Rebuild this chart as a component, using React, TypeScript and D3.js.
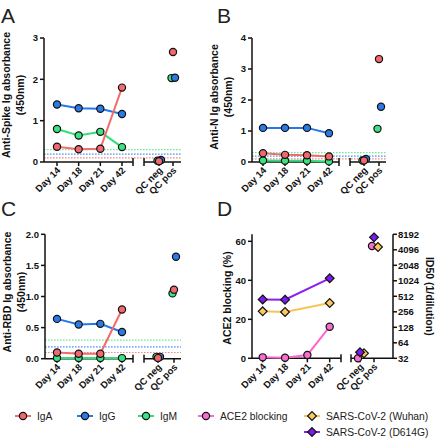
import React from 'react';
import * as d3 from 'd3';

// ---------- data ----------
const days = ['Day 14', 'Day 18', 'Day 21', 'Day 42'];
const qcLabels = ['QC neg', 'QC pos'];

const spikeIgA = [0.37, 0.31, 0.32, 1.8];
const spikeIgAQC = [0.02, 2.66];
const spikeIgG = [1.39, 1.3, 1.29, 1.16];
const spikeIgGQC = [0.05, 2.04];
const spikeIgM = [0.8, 0.64, 0.73, 0.36];
const spikeIgMQC = [0.03, 2.03];

const nIgA = [0.28, 0.23, 0.22, 0.18];
const nIgAQC = [0.05, 3.32];
const nIgG = [1.1, 1.1, 1.1, 0.93];
const nIgGQC = [0.1, 1.78];
const nIgM = [0.05, 0.04, 0.04, 0.02];
const nIgMQC = [0.05, 1.07];

const rbdIgA = [0.1, 0.08, 0.08, 0.79];
const rbdIgAQC = [0.01, 1.11];
const rbdIgG = [0.64, 0.55, 0.56, 0.43];
const rbdIgGQC = [0.03, 1.64];
const rbdIgM = [0.01, 0.01, 0.01, 0.01];
const rbdIgMQC = [0.03, 1.05];

const cutoffIgA = 0.1;
const cutoffIgG = 0.19;
const cutoffIgM = 0.3;

const ace2 = [0.5, 0.3, 1.7, 16.2];
const ace2QC = [0, 57.6];
const wuhan: (number | null)[] = [261, 254, null, 380];
const wuhanQC = [40, 4640];
const d614g: (number | null)[] = [446, 440, null, 1146];
const d614gQC = [42, 7140];

const spikeTicks = [0, 1, 2, 3];
const nTicks = [0, 1, 2, 3, 4];
const rbdTicks = [0, 0.5, 1, 1.5, 2];
const ace2Ticks = [0, 20, 40, 60];
const id50Ticks = [32, 64, 128, 256, 512, 1024, 2048, 4096, 8192];

// ---------- style ----------
const FONT = '"Liberation Sans", Arial, Helvetica, sans-serif';
const COL = {
  igA: { line: '#f46b6b', fill: '#f2686e', cut: '#f08c8c' },
  igG: { line: '#2379ea', fill: '#2a7be6', cut: '#4f92ee' },
  igM: { line: '#2fe07a', fill: '#3de283', cut: '#72e89a' },
  ace2: { line: '#ff66d2', fill: '#f56fcf' },
  wuhan: { line: '#f8c459', fill: '#fbc862' },
  d614g: { line: '#8a1ff0', fill: '#7a1ced' },
};

type Series = {
  values: (number | null)[];
  qc: number[];
  col: { line: string; fill: string };
  dodge: number;
  shape: 'circle' | 'diamond';
  axis: 'left' | 'right';
};

type PanelCfg = {
  letter: string;
  letterX: number;
  letterY: number;
  axisX: number;
  y0: number;
  yTop: number;
  yDomain: [number, number];
  ticks: number[];
  fmt: (v: number) => string;
  daysRange: [number, number];
  leftEnd: number;
  rightStart: number;
  qcRange: [number, number];
  rightEnd: number;
  series: Series[];
  cutoffs: { v: number; color: string }[];
  title: string[];
  titleCY: number;
  right?: { domain: [number, number]; ticks: number[]; title: string };
};

const Marker = ({ x, y, s }: { x: number; y: number; s: Series }) => {
  if (s.shape === 'circle')
    return <circle cx={x} cy={y} r={3.6} fill={s.col.fill} stroke="#111" strokeWidth={1.2} />;
  const d = 4.4;
  return (
    <path
      d={`M${x},${y - d}L${x + d},${y}L${x},${y + d}L${x - d},${y}Z`}
      fill={s.col.fill}
      stroke="#111"
      strokeWidth={1.2}
    />
  );
};

const Panel = ({ c }: { c: PanelCfg }) => {
  const y = d3.scaleLinear().domain(c.yDomain).range([c.y0, c.yTop]);
  const yR = c.right ? d3.scaleLog().base(2).domain(c.right.domain).range([c.y0, c.yTop]) : null;
  const xd = d3.scalePoint<string>().domain(days).range(c.daysRange);
  const xq = d3.scalePoint<string>().domain(qcLabels).range(c.qcRange);
  const ys = (s: Series) => (s.axis === 'right' && yR ? yR : y);
  const ax = { stroke: '#111', strokeWidth: 1.5, fill: 'none' };

  return (
    <g>
      <text x={c.letterX} y={c.letterY} fontSize={21} fontFamily={FONT} fill="#222">
        {c.letter}
      </text>
      {/* cutoff lines */}
      {c.cutoffs.map((k, i) => (
        <line
          key={i}
          x1={c.axisX}
          x2={c.rightEnd}
          y1={y(k.v)}
          y2={y(k.v)}
          stroke={k.color}
          strokeWidth={1.2}
          strokeDasharray="1.6,1.4"
        />
      ))}
      {/* y axis */}
      <line x1={c.axisX} x2={c.axisX} y1={c.y0} y2={y(c.yDomain[1])} {...ax} />
      {c.ticks.map((t) => (
        <g key={t}>
          <line x1={c.axisX - 4} x2={c.axisX} y1={y(t)} y2={y(t)} {...ax} />
          <text
            x={c.axisX - 6}
            y={y(t)}
            dy="0.35em"
            textAnchor="end"
            fontSize={9.5}
            fontWeight="bold"
            fontFamily={FONT}
            fill="#111"
          >
            {c.fmt(t)}
          </text>
        </g>
      ))}
      {/* title */}
      <text
        transform={`translate(${c.axisX - (c.title.length > 1 ? 34 : 21)},${c.titleCY}) rotate(-90)`}
        textAnchor="middle"
        fontSize={10.5}
        fontWeight="bold"
        fontFamily={FONT}
        fill="#111"
      >
        {c.title.map((t, i) => (
          <tspan key={i} x={0} dy={i === 0 ? 0 : 14}>
            {t}
          </tspan>
        ))}
      </text>
      {/* right axis */}
      {c.right && yR && (
        <g>
          <line x1={c.rightEnd} x2={c.rightEnd} y1={c.y0} y2={c.yTop} {...ax} />
          {c.right.ticks.map((t) => (
            <g key={t}>
              <line x1={c.rightEnd} x2={c.rightEnd + 4} y1={yR(t)} y2={yR(t)} {...ax} />
              <text
                x={c.rightEnd + 5}
                y={yR(t)}
                dy="0.35em"
                fontSize={9.5}
                fontWeight="bold"
                fontFamily={FONT}
                fill="#111"
              >
                {t}
              </text>
            </g>
          ))}
          <text
            transform={`translate(426,${(c.y0 + c.yTop) / 2}) rotate(90)`}
            textAnchor="middle"
            fontSize={10.5}
            fontWeight="bold"
            fontFamily={FONT}
            fill="#111"
          >
            {c.right.title}
          </text>
        </g>
      )}
      {/* x axis segments */}
      <line x1={c.axisX} x2={c.leftEnd} y1={c.y0} y2={c.y0} {...ax} />
      <line x1={c.leftEnd} x2={c.leftEnd} y1={c.y0 - 4} y2={c.y0 + 4} {...ax} />
      <line x1={c.rightStart} x2={c.rightEnd} y1={c.y0} y2={c.y0} {...ax} />
      <line x1={c.rightStart} x2={c.rightStart} y1={c.y0 - 4} y2={c.y0 + 4} {...ax} />
      {days.map((d) => (
        <g key={d}>
          <line x1={xd(d)} x2={xd(d)} y1={c.y0} y2={c.y0 + 4} {...ax} />
          <text
            transform={`translate(${(xd(d) as number) + 4},${c.y0 + 9}) rotate(-45)`}
            textAnchor="end"
            fontSize={9.5}
            fontWeight="bold"
            fontFamily={FONT}
            fill="#111"
          >
            {d}
          </text>
        </g>
      ))}
      {qcLabels.map((d) => (
        <g key={d}>
          <line x1={xq(d)} x2={xq(d)} y1={c.y0} y2={c.y0 + 4} {...ax} />
          <text
            transform={`translate(${(xq(d) as number) + 4},${c.y0 + 9}) rotate(-45)`}
            textAnchor="end"
            fontSize={9.5}
            fontWeight="bold"
            fontFamily={FONT}
            fill="#111"
          >
            {d}
          </text>
        </g>
      ))}
      {/* lines */}
      {c.series.map((s, i) => {
        const sc = ys(s);
        const pts = days
          .map((d, j) => [xd(d) as number, s.values[j]] as [number, number | null])
          .filter((p) => p[1] !== null) as [number, number][];
        const line = d3
          .line<[number, number]>()
          .x((p) => p[0])
          .y((p) => sc(p[1]));
        return <path key={i} d={line(pts) || ''} stroke={s.col.line} strokeWidth={2} fill="none" />;
      })}
      {/* markers */}
      {c.series.map((s, i) => {
        const sc = ys(s);
        return (
          <g key={i}>
            {days.map((d, j) =>
              s.values[j] === null ? null : (
                <Marker key={d} x={xd(d) as number} y={sc(s.values[j] as number)} s={s} />
              )
            )}
            {qcLabels.map((d, j) => (
              <Marker key={d} x={(xq(d) as number) + s.dodge} y={sc(s.qc[j])} s={s} />
            ))}
          </g>
        );
      })}
    </g>
  );
};

const abSeries = (
  a: number[],
  aq: number[],
  g: number[],
  gq: number[],
  m: number[],
  mq: number[]
): Series[] => [
  { values: m, qc: mq, col: COL.igM, dodge: -1.5, shape: 'circle', axis: 'left' },
  { values: g, qc: gq, col: COL.igG, dodge: 2, shape: 'circle', axis: 'left' },
  { values: a, qc: aq, col: COL.igA, dodge: 0, shape: 'circle', axis: 'left' },
];

const cutoffs = [
  { v: cutoffIgM, color: COL.igM.cut },
  { v: cutoffIgG, color: COL.igG.cut },
  { v: cutoffIgA, color: COL.igA.cut },
];

const panels: PanelCfg[] = [
  {
    letter: 'A',
    letterX: 1,
    letterY: 23,
    axisX: 44,
    y0: 162,
    yTop: 38,
    yDomain: [0, 3],
    ticks: spikeTicks,
    fmt: (v) => String(v),
    daysRange: [57, 122],
    leftEnd: 133,
    rightStart: 144,
    qcRange: [159, 173],
    rightEnd: 181,
    series: abSeries(spikeIgA, spikeIgAQC, spikeIgG, spikeIgGQC, spikeIgM, spikeIgMQC),
    cutoffs,
    title: ['Anti-Spike Ig absorbance', '(450nm)'],
    titleCY: 95,
  },
  {
    letter: 'B',
    letterX: 217,
    letterY: 23,
    axisX: 252,
    y0: 162,
    yTop: 38,
    yDomain: [0, 4],
    ticks: nTicks,
    fmt: (v) => String(v),
    daysRange: [263, 329],
    leftEnd: 339,
    rightStart: 350,
    qcRange: [364, 379],
    rightEnd: 386,
    series: abSeries(nIgA, nIgAQC, nIgG, nIgGQC, nIgM, nIgMQC),
    cutoffs,
    title: ['Anti-N Ig absorbance', '(450nm)'],
    titleCY: 97,
  },
  {
    letter: 'C',
    letterX: 1,
    letterY: 216,
    axisX: 45,
    y0: 358.7,
    yTop: 234.3,
    yDomain: [0, 2],
    ticks: rbdTicks,
    fmt: d3.format('.1f'),
    daysRange: [57, 122],
    leftEnd: 133,
    rightStart: 144,
    qcRange: [158, 174],
    rightEnd: 181,
    series: abSeries(rbdIgA, rbdIgAQC, rbdIgG, rbdIgGQC, rbdIgM, rbdIgMQC),
    cutoffs,
    title: ['Anti-RBD Ig absorbance', '(450nm)'],
    titleCY: 292,
  },
  {
    letter: 'D',
    letterX: 217,
    letterY: 216,
    axisX: 252,
    y0: 358.3,
    yTop: 234.3,
    yDomain: [0, 63.6],
    ticks: ace2Ticks,
    fmt: (v) => String(v),
    daysRange: [262.7, 329.7],
    leftEnd: 341,
    rightStart: 351,
    qcRange: [360, 374],
    rightEnd: 393,
    series: [
      { values: ace2, qc: ace2QC, col: COL.ace2, dodge: -2, shape: 'circle', axis: 'left' },
      { values: wuhan, qc: wuhanQC, col: COL.wuhan, dodge: 4, shape: 'diamond', axis: 'right' },
      { values: d614g, qc: d614gQC, col: COL.d614g, dodge: 0, shape: 'diamond', axis: 'right' },
    ],
    cutoffs: [],
    title: ['ACE2 blocking (%)'],
    titleCY: 298,
    right: { domain: [32, 8192], ticks: id50Ticks, title: 'ID50 (1/dilution)' },
  },
];

const legendItems: { label: string; s: Series; x: number; y: number }[] = [
  { label: 'IgA', s: panels[0].series[2], x: 23, y: 416 },
  { label: 'IgG', s: panels[0].series[1], x: 85, y: 416 },
  { label: 'IgM', s: panels[0].series[0], x: 146, y: 416 },
  { label: 'ACE2 blocking', s: panels[3].series[0], x: 206, y: 416 },
  { label: 'SARS-CoV-2 (Wuhan)', s: panels[3].series[1], x: 312, y: 416 },
  { label: 'SARS-CoV-2 (D614G)', s: panels[3].series[2], x: 312, y: 432 },
];

export default function App() {
  return (
    <svg
      width={440}
      height={440}
      viewBox="0 0 440 440"
      style={{ position: 'absolute', left: 0, top: 0, background: '#fff' }}
    >
      <rect width={440} height={440} fill="#fff" />
      {panels.map((p) => (
        <Panel key={p.letter} c={p} />
      ))}
      {legendItems.map((it) => (
        <g key={it.label}>
          <line x1={it.x - 8} x2={it.x + 8} y1={it.y} y2={it.y} stroke={it.s.col.line} strokeWidth={2} />
          <Marker x={it.x} y={it.y} s={it.s} />
          <text x={it.x + 14} y={it.y} dy="0.35em" fontSize={10.3} fontFamily={FONT} fill="#222">
            {it.label}
          </text>
        </g>
      ))}
    </svg>
  );
}
